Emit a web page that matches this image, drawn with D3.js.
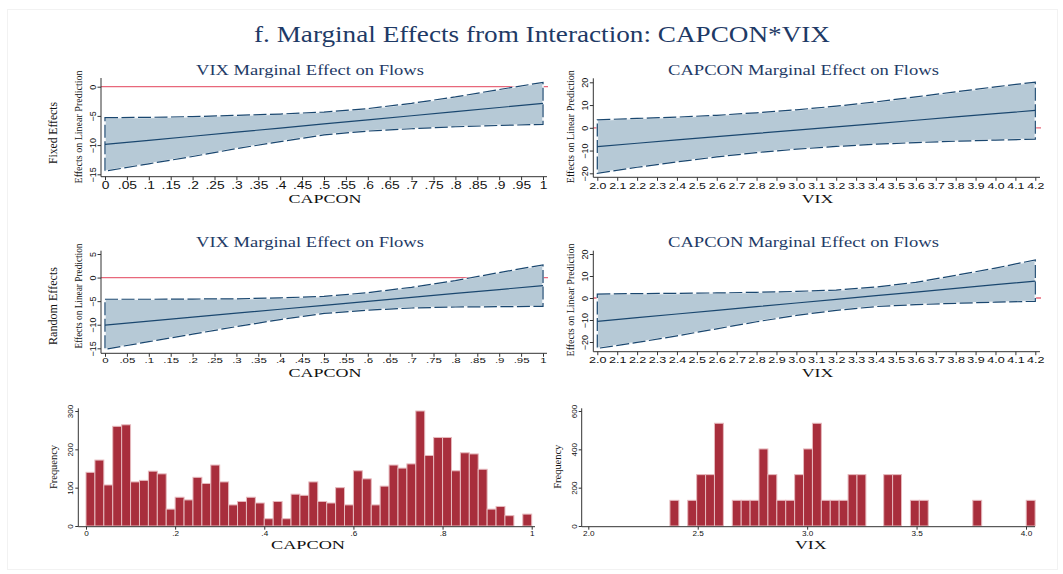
<!DOCTYPE html>
<html><head><meta charset="utf-8">
<script src="https://cdn.jsdelivr.net/npm/d3@7"></script>
<style>
body{margin:0;background:#fff;}
svg{display:block;font-family:"Liberation Serif","Times New Roman",serif;}
</style></head><body>
<svg id="chart" width="1063" height="574"></svg>
<script>
// ---------------- DATA ----------------
const capconGrid   = [0, 0.1, 0.2, 0.3, 0.4, 0.5, 0.6, 0.7, 0.8, 0.9, 1];
const feVixCenter  = [-9.89, -9.19, -8.48, -7.78, -7.08, -6.37, -5.67, -4.97, -4.27, -3.56, -2.86];
const feVixUpper   = [-5.3, -5.25, -5.12, -4.91, -4.68, -4.34, -3.75, -2.85, -1.75, -0.48, 0.74];
const feVixLower   = [-14.46, -13.2, -11.95, -10.6, -9.4, -8.25, -7.6, -7.2, -6.86, -6.63, -6.46];
const reVixCenter  = [-10.07, -9.23, -8.40, -7.56, -6.72, -5.89, -5.05, -4.21, -3.37, -2.54, -1.70];
const reVixUpper   = [-4.6, -4.6, -4.55, -4.5, -4.3, -4.0, -3.2, -2.06, -0.64, 1.06, 2.7];
const reVixLower   = [-15.2, -13.6, -12.0, -10.4, -8.9, -7.6, -6.9, -6.45, -6.24, -6.17, -6.1];

const vixGrid      = [2.0, 2.2, 2.4, 2.6, 2.8, 3.0, 3.2, 3.4, 3.6, 3.8, 4.0, 4.2];
const feCapCenter  = [-8.24, -6.8, -5.35, -3.91, -2.46, -1.02, 0.42, 1.87, 3.31, 4.76, 6.2, 7.65];
const feCapUpper   = [3.5, 4.1, 4.7, 5.5, 6.6, 7.9, 9.5, 11.4, 13.6, 15.8, 18.0, 20.1];
const feCapLower   = [-20.0, -17.35, -15.0, -12.8, -10.9, -9.4, -8.2, -7.2, -6.5, -5.9, -5.4, -5.0];
const reCapCenter  = [-10.6, -8.94, -7.27, -5.61, -3.94, -2.28, -0.62, 1.05, 2.71, 4.38, 6.04, 7.7];
const reCapUpper   = [1.8, 2.0, 2.1, 2.3, 2.6, 3.0, 3.6, 5.0, 7.1, 10.3, 13.6, 17.3];
const reCapLower   = [-22.9, -20.2, -17.2, -14.0, -10.8, -7.9, -5.6, -3.9, -3.0, -2.4, -1.9, -1.5];

const capconTicks      = [0,.05,.1,.15,.2,.25,.3,.35,.4,.45,.5,.55,.6,.65,.7,.75,.8,.85,.9,.95,1];
const capconTickLabels = ["0",".05",".1",".15",".2",".25",".3",".35",".4",".45",".5",".55",".6",".65",".7",".75",".8",".85",".9",".95","1"];
const vixTicks         = [2.0,2.1,2.2,2.3,2.4,2.5,2.6,2.7,2.8,2.9,3.0,3.1,3.2,3.3,3.4,3.5,3.6,3.7,3.8,3.9,4.0,4.1,4.2];
const vixTickLabels    = ["2.0","2.1","2.2","2.3","2.4","2.5","2.6","2.7","2.8","2.9","3.0","3.1","3.2","3.3","3.4","3.5","3.6","3.7","3.8","3.9","4.0","4.1","4.2"];
const feYTicks  = [0, -5, -10, -15];
const reYTicks  = [5, 0, -5, -10, -15];
const capYTicks = [20, 10, 0, -10, -20];

const capconBinStart = 0, capconBinWidth = 0.02;
const capconFreq = [140,172,107,260,264,115,119,143,136,44,75,68,127,111,159,115,55,64,75,60,
                    19,64,19,83,80,115,64,60,100,55,144,123,55,104,159,151,162,300,184,231,
                    231,144,191,188,148,44,51,27,0,31];
const vixBinStart = 2.373, vixBinWidth = 0.0407;
const vixFreq = [134,0,134,268,268,536,0,134,134,134,402,268,134,134,268,402,536,134,134,134,
                 268,268,0,0,268,268,0,134,134,0,0,0,0,0,134,0,0,0,0,0,134];
const histCapTicks = [0,.2,.4,.6,.8,1], histCapLabels = ["0",".2",".4",".6",".8","1"];
const histVixTicks = [2,2.5,3,3.5,4],   histVixLabels = ["2.0","2.5","3.0","3.5","4.0"];
const freqCapTicks = [0,100,200,300], freqVixTicks = [0,200,400,600];

const mainTitle = "f. Marginal Effects from Interaction: CAPCON*VIX";
const vixTitle = "VIX Marginal Effect on Flows", capTitle = "CAPCON Marginal Effect on Flows";
const yLab = "Effects on Linear Prediction";

// ---------------- STYLE ----------------
const NAVY="#1a476f", BAND="#b6c9d6", TITLE="#1e3a66", RED="#e8687b",
      BAR="#a82e3c", BAR_EDGE="#e6b9bd", AXIS="#333", TXT="#111";

const svg = d3.select("#chart");
svg.append("rect").attr("x",7.5).attr("y",9.5).attr("width",1050).attr("height",560)
   .attr("fill","#fff").attr("stroke","#f2f2f2");

function htext(s,x,y,size,width,color){
  const t=svg.append("text").attr("x",x).attr("y",y).attr("text-anchor","middle")
    .attr("font-size",size).attr("fill",color||TXT).text(s);
  if(width) t.attr("textLength",width).attr("lengthAdjust","spacingAndGlyphs");
  return t;
}
function vtext(s,x,y,size,width,color){
  const t=svg.append("text").attr("transform",`translate(${x},${y}) rotate(-90)`)
    .attr("text-anchor","middle").attr("font-size",size).attr("fill",color||TXT).text(s);
  if(width) t.attr("textLength",width).attr("lengthAdjust","spacingAndGlyphs");
  return t;
}

htext(mainTitle, 542, 41.5, 22.5, 576, TITLE);

function styleYAxis(g, off, size){
  g.select(".domain").remove();
  g.selectAll(".tick line").attr("stroke",AXIS);
  g.selectAll(".tick text").attr("x",null).attr("dy",null).attr("y",null)
    .attr("text-anchor","middle").attr("transform",`translate(${-off},0) rotate(-90)`)
    .attr("font-size",size).attr("fill",TXT).attr("font-family",null);
}
function styleXAxis(g, off, size, sx){
  g.select(".domain").remove();
  g.selectAll(".tick line").attr("stroke",AXIS);
  g.selectAll(".tick text").attr("dy",null).attr("y",off)
    .attr("transform",`scale(${sx},1)`).attr("font-size",size).attr("fill",TXT).attr("font-family",null);
}

function marginPanel(p){
  const x=d3.scaleLinear().domain([p.grid[0],p.grid[p.grid.length-1]]).range([p.px0,p.px1]);
  const y=d3.scaleLinear().domain(p.yRef).range(p.yPix);
  const g=svg.append("g");
  g.append("line").attr("x1",p.ax0).attr("x2",p.ax1+1).attr("y1",y(0)).attr("y2",y(0))
    .attr("stroke",RED).attr("stroke-width",1.3);
  const pts=p.grid.map((v,i)=>({x:v,u:p.upper[i],l:p.lower[i],c:p.center[i]}));
  const area=d3.area().x(d=>x(d.x)).y0(d=>y(d.l)).y1(d=>y(d.u));
  g.append("path").attr("d",area(pts)).attr("fill",BAND).attr("stroke","#f4f7fa").attr("stroke-width",1.6);
  g.append("path").attr("d",area(pts)).attr("fill","none").attr("stroke",NAVY)
    .attr("stroke-width",1.2).attr("stroke-dasharray","13,3.5");
  g.append("path").attr("d",d3.line().x(d=>x(d.x)).y(d=>y(d.c))(pts)).attr("fill","none")
    .attr("stroke",NAVY).attr("stroke-width",1.2);
  g.append("line").attr("x1",p.ax0).attr("x2",p.ax0).attr("y1",p.ayTop).attr("y2",p.ayBot).attr("stroke",AXIS);
  g.append("line").attr("x1",p.ax0).attr("x2",p.ax1).attr("y1",p.ayBot).attr("y2",p.ayBot).attr("stroke",AXIS);
  const gy=g.append("g").attr("transform",`translate(${p.ax0},0)`)
    .call(d3.axisLeft(y).tickValues(p.yTicks).tickFormat(d3.format("d")).tickSize(3.5).tickSizeOuter(0));
  styleYAxis(gy, 5.5, 9);
  const gx=g.append("g").attr("transform",`translate(0,${p.ayBot})`)
    .call(d3.axisBottom(x).tickValues(p.xTicks).tickFormat((d,i)=>p.xLabels[i]).tickSize(3.5).tickSizeOuter(0));
  styleXAxis(gx, p.xLabOff, p.xLabSize, p.xLabSx);
  htext(p.title, p.titleX, p.titleY, 15.5, p.titleW, TITLE);
  htext(p.xTitle, p.xTitleX, p.xTitleY, 12.5, p.xTitleW);
  vtext(yLab, p.yLabX, p.yLabY, 10, p.yLabW);
}

// Row 1 left: Fixed effects, VIX marginal effect over CAPCON
marginPanel({grid:capconGrid,center:feVixCenter,upper:feVixUpper,lower:feVixLower,
  px0:105,px1:543,yRef:[0,-15],yPix:[86.7,174.3],ax0:101,ax1:547,ayTop:78,ayBot:176.7,
  yTicks:feYTicks,xTicks:capconTicks,xLabels:capconTickLabels,xLabOff:12.8,xLabSize:10,xLabSx:1.38,
  title:vixTitle,titleX:310,titleY:75.4,titleW:228,
  xTitle:"CAPCON",xTitleX:325,xTitleY:203,xTitleW:73,
  yLabX:81.5,yLabY:127,yLabW:113});
// Row 1 right: Fixed effects, CAPCON marginal effect over VIX
marginPanel({grid:vixGrid,center:feCapCenter,upper:feCapUpper,lower:feCapLower,
  px0:597.3,px1:1035.3,yRef:[20,-20],yPix:[82.3,173.3],ax0:593.3,ax1:1040,ayTop:78.3,ayBot:177.3,
  yTicks:capYTicks,xTicks:vixTicks,xLabels:vixTickLabels,xLabOff:12.2,xLabSize:8.5,xLabSx:1.45,
  title:capTitle,titleX:803.5,titleY:75.4,titleW:271,
  xTitle:"VIX",xTitleX:817.5,xTitleY:202.5,xTitleW:31.7,
  yLabX:573.5,yLabY:126.7,yLabW:113});
// Row 2 left: Random effects
marginPanel({grid:capconGrid,center:reVixCenter,upper:reVixUpper,lower:reVixLower,
  px0:105,px1:543,yRef:[5,-15],yPix:[254,348.3],ax0:101,ax1:547,ayTop:250.7,ayBot:353.3,
  yTicks:reYTicks,xTicks:capconTicks,xLabels:capconTickLabels,xLabOff:9.4,xLabSize:8,xLabSx:1.43,
  title:vixTitle,titleX:310,titleY:247,titleW:228,
  xTitle:"CAPCON",xTitleX:325,xTitleY:376.5,xTitleW:73,
  yLabX:81.5,yLabY:296,yLabW:105});
// Row 2 right
marginPanel({grid:vixGrid,center:reCapCenter,upper:reCapUpper,lower:reCapLower,
  px0:597.3,px1:1035.3,yRef:[20,-20],yPix:[254,342],ax0:593.3,ax1:1040,ayTop:250.7,ayBot:351.7,
  yTicks:capYTicks,xTicks:vixTicks,xLabels:vixTickLabels,xLabOff:11,xLabSize:8.5,xLabSx:1.48,
  title:capTitle,titleX:803.5,titleY:247,titleW:271,
  xTitle:"VIX",xTitleX:817.5,xTitleY:376.5,xTitleW:31.7,
  yLabX:573.5,yLabY:300,yLabW:113});

vtext("Fixed Effects", 57, 133, 12, 62);
vtext("Random Effects", 57, 306, 12, 78);

// ---------------- HISTOGRAMS ----------------
function histPanel(p){
  const x=d3.scaleLinear().domain(p.xRef).range(p.xPix);
  const y=d3.scaleLinear().domain(p.yRef).range(p.yPix);
  const g=svg.append("g");
  const bins=p.freq.map((f,i)=>({x0:p.start+i*p.width,x1:p.start+(i+1)*p.width,f:f})).filter(d=>d.f>0);
  g.selectAll("rect").data(bins).enter().append("rect")
    .attr("x",d=>x(d.x0)).attr("width",d=>x(d.x1)-x(d.x0))
    .attr("y",d=>y(d.f)).attr("height",d=>y(0)-y(d.f))
    .attr("fill",BAR).attr("stroke",BAR_EDGE).attr("stroke-width",1);
  g.append("line").attr("x1",p.ax0).attr("x2",p.ax0).attr("y1",p.ayTop).attr("y2",p.ayBot).attr("stroke",AXIS);
  g.append("line").attr("x1",p.ax0).attr("x2",p.ax1).attr("y1",p.ayBot).attr("y2",p.ayBot).attr("stroke",AXIS);
  const gy=g.append("g").attr("transform",`translate(${p.ax0},0)`)
    .call(d3.axisLeft(y).tickValues(p.yTicks).tickFormat(d3.format("d")).tickSize(3).tickSizeOuter(0));
  styleYAxis(gy, 5, 8);
  const gx=g.append("g").attr("transform",`translate(0,${p.ayBot})`)
    .call(d3.axisBottom(x).tickValues(p.xTicks).tickFormat((d,i)=>p.xLabels[i]).tickSize(3).tickSizeOuter(0));
  styleXAxis(gx, 9, 7.8, 1.05);
  htext(p.xTitle, p.xTitleX, 549, 13, p.xTitleW);
  vtext("Frequency", p.fX, p.fY, 10, 44);
}
histPanel({freq:capconFreq,start:capconBinStart,width:capconBinWidth,
  xRef:[0,1],xPix:[86,531.7],yRef:[0,300],yPix:[526,411],
  ax0:78.3,ax1:535,ayTop:408.3,ayBot:526.7,yTicks:freqCapTicks,
  xTicks:histCapTicks,xLabels:histCapLabels,xTitle:"CAPCON",xTitleX:308,xTitleW:74,fX:57,fY:467});
histPanel({freq:vixFreq,start:vixBinStart,width:vixBinWidth,
  xRef:[2,4],xPix:[588.3,1026],yRef:[0,600],yPix:[526,411],
  ax0:581.7,ax1:1035,ayTop:408.3,ayBot:526.7,yTicks:freqVixTicks,
  xTicks:histVixTicks,xLabels:histVixLabels,xTitle:"VIX",xTitleX:810.8,xTitleW:31.7,fX:561,fY:466.7});
</script>
</body></html>
